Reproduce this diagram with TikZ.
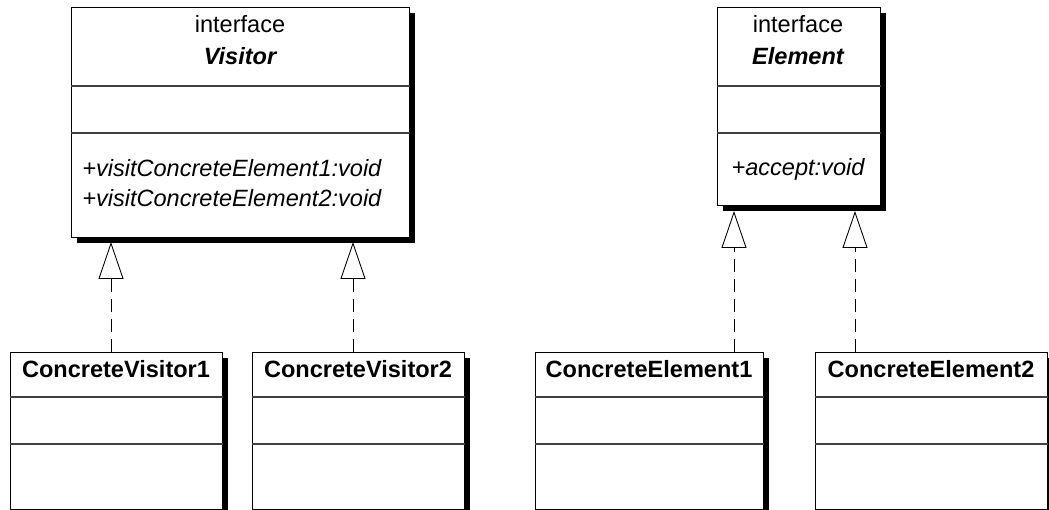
\documentclass[tikz,border=0pt]{standalone}
\usepackage{fontspec}
\setmainfont{Liberation Sans}
\usetikzlibrary{arrows.meta,shadows}
\tikzset{
    cls/.style={draw, line width=0.8pt, fill=white, anchor=north west, inner sep=0pt,
        drop shadow={shadow xshift=0.1cm, shadow yshift=-0.1cm, fill=black, opacity=1}},
    divider/.style={line width=0.6pt, draw=black!75},
    realize/.style={line width=0.5pt, dash pattern=on 0.26cm off 0.14cm,
        -{Triangle[open, length=0.74cm, width=0.5cm]}},
    txt/.style={anchor=base, inner sep=0pt, font=\fontsize{13.4}{16}\selectfont},
    title/.style={txt, font=\fontsize{13.4}{16}\selectfont\bfseries\itshape},
    meth/.style={txt, font=\fontsize{13.4}{16}\selectfont\itshape},
    cname/.style={txt, font=\fontsize{13.4}{16}\selectfont\bfseries},
}
\begin{document}
\begin{tikzpicture}[x=0.02cm, y=-0.02cm]
                \useasboundingbox (0,0) rectangle (1049,510);
                \clip (0,0) rectangle (1049,510);
                \node[cls, minimum width=6.76cm, minimum height=4.6cm] (visitor) at (71,7) {};
                \node[cls, minimum width=3.26cm, minimum height=3.96cm] (element) at (717,7) {};
                \node[cls, minimum width=4.24cm, minimum height=3.14cm] (cv1) at (10,352) {};
                \node[cls, minimum width=4.24cm, minimum height=3.14cm] (cv2) at (252,352) {};
                \node[cls, minimum width=4.56cm, minimum height=3.14cm] (ce1) at (535,352) {};
                \node[cls, minimum width=4.64cm, minimum height=3.14cm] (ce2) at (815,352) {};
                \draw[divider] ([yshift=-1.58cm]visitor.north west) -- ([yshift=-1.58cm]visitor.north east);
                \draw[divider] ([yshift=-2.52cm]visitor.north west) -- ([yshift=-2.52cm]visitor.north east);
                \draw[divider] ([yshift=-1.58cm]element.north west) -- ([yshift=-1.58cm]element.north east);
                \draw[divider] ([yshift=-2.52cm]element.north west) -- ([yshift=-2.52cm]element.north east);
                \draw[divider] ([yshift=-0.9cm]cv1.north west) -- ([yshift=-0.9cm]cv1.north east);
                \draw[divider] ([yshift=-1.84cm]cv1.north west) -- ([yshift=-1.84cm]cv1.north east);
                \draw[divider] ([yshift=-0.9cm]cv2.north west) -- ([yshift=-0.9cm]cv2.north east);
                \draw[divider] ([yshift=-1.84cm]cv2.north west) -- ([yshift=-1.84cm]cv2.north east);
                \draw[divider] ([yshift=-0.9cm]ce1.north west) -- ([yshift=-0.9cm]ce1.north east);
                \draw[divider] ([yshift=-1.84cm]ce1.north west) -- ([yshift=-1.84cm]ce1.north east);
                \draw[divider] ([yshift=-0.9cm]ce2.north west) -- ([yshift=-0.9cm]ce2.north east);
                \draw[divider] ([yshift=-1.84cm]ce2.north west) -- ([yshift=-1.84cm]ce2.north east);
                \node[txt] (vstereo) at (240,33) {interface};
                \node[title] (vname) at (240,65) {Visitor};
                \node[meth, anchor=base west] (vm1) at (82,176) {+visitConcreteElement1:void};
                \node[meth, anchor=base west] (vm2) at (82,207) {+visitConcreteElement2:void};
                \node[txt] (estereo) at (798,33) {interface};
                \node[title] (ename) at (798,65) {Element};
                \node[meth] (em) at (798,175) {+accept:void};
                \node[cname] (cv1name) at (116,377) {ConcreteVisitor1};
                \node[cname] (cv2name) at (358,377) {ConcreteVisitor2};
                \node[cname] (ce1name) at (649,377) {ConcreteElement1};
                \node[cname] (ce2name) at (931,377) {ConcreteElement2};
                \coordinate (v1) at (111,242);
                \coordinate (v2) at (353,242);
                \coordinate (e1) at (734,211);
                \coordinate (e2) at (855,211);
                \draw[realize] (cv1.north -| v1) -- (v1);
                \draw[realize] (cv2.north -| v2) -- (v2);
                \draw[realize] (ce1.north -| e1) -- (e1);
                \draw[realize] (ce2.north -| e2) -- (e2);
            \end{tikzpicture}
\end{document}
